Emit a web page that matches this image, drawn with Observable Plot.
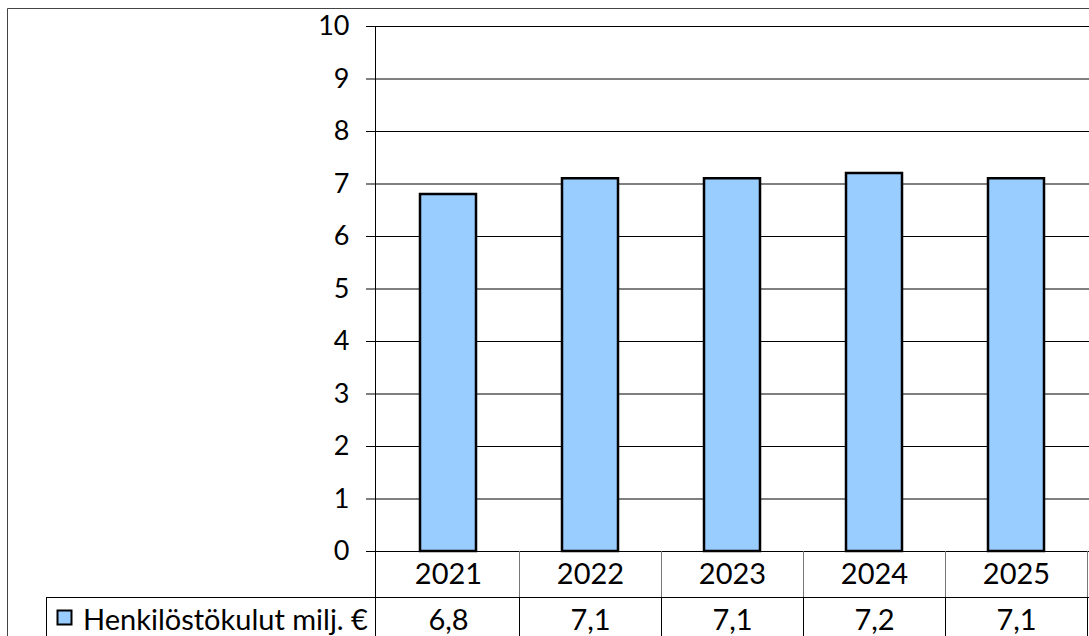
<!DOCTYPE html>
<html><head><meta charset="utf-8">
<script src="https://cdn.jsdelivr.net/npm/d3@7"></script>
<script src="https://cdn.jsdelivr.net/npm/@observablehq/plot@0.6"></script>
<style>html,body{margin:0;padding:0;background:#fff} svg{display:block}</style>
</head><body><div id="chart"></div>
<script>
const years = ["2021", "2022", "2023", "2024", "2025"];
const values = [6.8, 7.1, 7.1, 7.2, 7.1];
const yTicks = [0, 1, 2, 3, 4, 5, 6, 7, 8, 9, 10];
const seriesLabel = "Henkilöstökulut milj. €";

const data = years.map((year, i) => ({year, value: values[i]}));
const fmt = v => v.toFixed(1).replace(".", ",");

const plot = Plot.plot({
  width: 1089,
  height: 636,
  marginTop: 26,
  marginBottom: 85,
  marginLeft: 375,
  marginRight: 0,
  style: {fontFamily: "Lato, sans-serif", background: "#fff", color: "#000", overflow: "visible"},
  x: {domain: years, padding: 0, label: null},
  y: {domain: [0, 10], label: null},
  marks: [
    Plot.gridY(yTicks.filter(t => t > 0), {stroke: "#000", strokeOpacity: 1, strokeWidth: 1}),
    Plot.axisY({ticks: yTicks, tickSize: 9, tickPadding: 17, fontSize: 27, label: null}),
    Plot.barY(data, {x: "year", y: "value", fill: "#99CCFF", stroke: "#000", strokeWidth: 2.5, insetLeft: 43, insetRight: 43}),
    Plot.ruleY([0], {stroke: "#000"}),
    Plot.axisX({tickSize: 0, tickPadding: 12, fontSize: 29, label: null}),
    Plot.text(data, {x: "year", text: d => fmt(d.value), frameAnchor: "bottom", dy: 69, fontSize: 29, lineAnchor: "middle"})
  ]
});

document.getElementById("chart").appendChild(plot);

// data table grid + legend cell
const svg = d3.select(plot);
const xs = plot.scale("x");
const ys = plot.scale("y");
const y0 = ys.apply(0);
const rowH = 46;
const x0 = xs.range[0];
const g = svg.append("g").attr("fill", "none");
function line(x1, y1, x2, y2, color, w) {
  g.append("line").attr("x1", x1).attr("y1", y1).attr("x2", x2).attr("y2", y2)
    .attr("stroke", color).attr("stroke-width", w || 1);
}
// axis line continuing through the table
line(x0 + 0.5, ys.apply(10), x0 + 0.5, 636, "#000");
// band dividers
years.forEach(yr => {
  const xr = Math.round(xs.apply(yr) + xs.bandwidth) + 0.5;
  line(xr, y0, xr, y0 + rowH, "#777");
  line(xr, y0 + rowH, xr, 636, "#000");
});
// row separator and label cell
line(46, y0 + rowH + 0.5, 1089, y0 + rowH + 0.5, "#000");
line(46.5, y0 + rowH, 46.5, 636, "#000");
// outer chart border
line(7.5, 8.5, 1089, 8.5, "#444");
line(7.5, 8.5, 7.5, 636, "#444");
// legend key + series label
svg.append("rect").attr("x", 57.5).attr("y", 610.5).attr("width", 14).attr("height", 14)
  .attr("fill", "#99CCFF").attr("stroke", "#000").attr("stroke-width", 2);
svg.append("text").attr("x", 83).attr("y", y0 + rowH * 1.5).attr("dy", "0.35em")
  .attr("text-anchor", "start").attr("font-size", 29).attr("fill", "#000").text(seriesLabel);
</script>
</body></html>
